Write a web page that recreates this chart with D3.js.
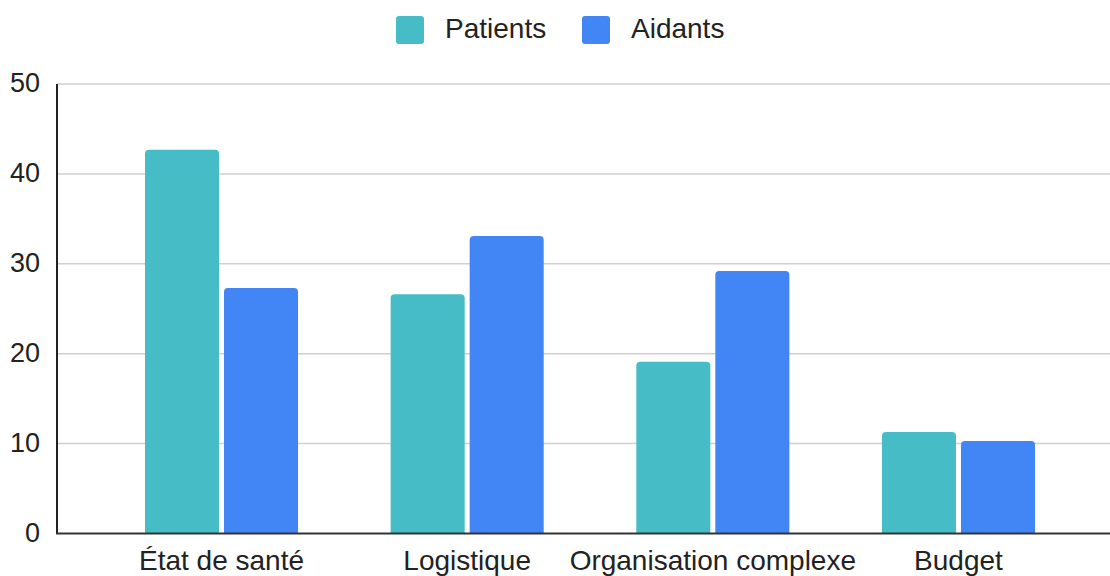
<!DOCTYPE html>
<html>
<head>
<meta charset="utf-8">
<script src="https://cdn.jsdelivr.net/npm/d3@7"></script>
<style>
  body { margin: 0; background: #fff; }
  svg { display: block; font-family: "Liberation Sans", Arial, sans-serif; }
</style>
</head>
<body>
<svg id="chart" width="1110" height="576"></svg>
<script>
// data
const categories = ['État de santé', 'Logistique', 'Organisation complexe', 'Budget'];
const seriesNames = ['Patients', 'Aidants'];
const patients = [42.7, 26.6, 19.1, 11.3];
const aidants = [27.3, 33.1, 29.2, 10.3];
const yTicks = [0, 10, 20, 30, 40, 50];
const colors = ['#46bdc6', '#4285f4'];

const svg = d3.select('#chart');
const width = 1110, height = 576;

const rows = categories.map((c, i) => ({cat: c, vals: [patients[i], aidants[i]]}));

const y = d3.scaleLinear().domain([0, 50]).range([533.5, 84]);

const x0 = d3.scaleBand()
    .domain(categories)
    .range([98.7, 1081.3])
    .paddingInner(0.377)
    .paddingOuter(0.1885);

const x1 = d3.scaleBand()
    .domain(seriesNames)
    .range([0, x0.bandwidth()])
    .paddingInner(0.063);

// gridlines
svg.append('g')
    .selectAll('line')
    .data(yTicks.filter(d => d > 0))
    .join('line')
    .attr('x1', 57).attr('x2', width)
    .attr('y1', d => y(d)).attr('y2', d => y(d))
    .style('stroke', '#d0d0d0')
    .style('stroke-width', 1.5);

// y tick labels
svg.append('g')
    .selectAll('text')
    .data(yTicks)
    .join('text')
    .attr('x', 40)
    .attr('y', d => y(d) + 8)
    .attr('text-anchor', 'end')
    .style('font-size', '27px')
    .style('fill', '#222')
    .text(d => d);

// rounded-top bar path
function barPath(x, yTop, w, h, r) {
    r = Math.min(r, h);
    return `M${x},${yTop + h}V${yTop + r}Q${x},${yTop} ${x + r},${yTop}` +
        `H${x + w - r}Q${x + w},${yTop} ${x + w},${yTop + r}V${yTop + h}Z`;
}

const groups = svg.append('g')
    .selectAll('g')
    .data(rows)
    .join('g')
    .attr('transform', d => `translate(${x0(d.cat)},0)`);

groups.selectAll('path')
    .data(d => d.vals.map((v, i) => ({name: seriesNames[i], v: v, i: i})))
    .join('path')
    .attr('d', d => barPath(x1(d.name), y(d.v), x1.bandwidth(), y(0) - y(d.v), 4))
    .style('fill', d => colors[d.i]);

// axes lines
svg.append('line')
    .attr('x1', 57).attr('x2', 57)
    .attr('y1', y(50)).attr('y2', y(0))
    .style('stroke', '#222').style('stroke-width', 2);
svg.append('line')
    .attr('x1', 56).attr('x2', width)
    .attr('y1', y(0)).attr('y2', y(0))
    .style('stroke', '#333').style('stroke-width', 2);

// category labels
svg.append('g')
    .selectAll('text')
    .data(categories)
    .join('text')
    .attr('x', d => x0(d) + x0.bandwidth() / 2)
    .attr('y', 570)
    .attr('text-anchor', 'middle')
    .style('font-size', '28px')
    .style('fill', '#222')
    .text(d => d);

// legend
const legendX = [396, 582];
const legend = svg.append('g')
    .selectAll('g')
    .data(seriesNames)
    .join('g')
    .attr('transform', (d, i) => `translate(${legendX[i]},16)`);
legend.append('rect')
    .attr('width', 28).attr('height', 28)
    .attr('rx', 3)
    .style('fill', (d, i) => colors[i]);
legend.append('text')
    .attr('x', 49)
    .attr('y', 22)
    .style('font-size', '28px')
    .style('fill', '#222')
    .text(d => d);
</script>
</body>
</html>
